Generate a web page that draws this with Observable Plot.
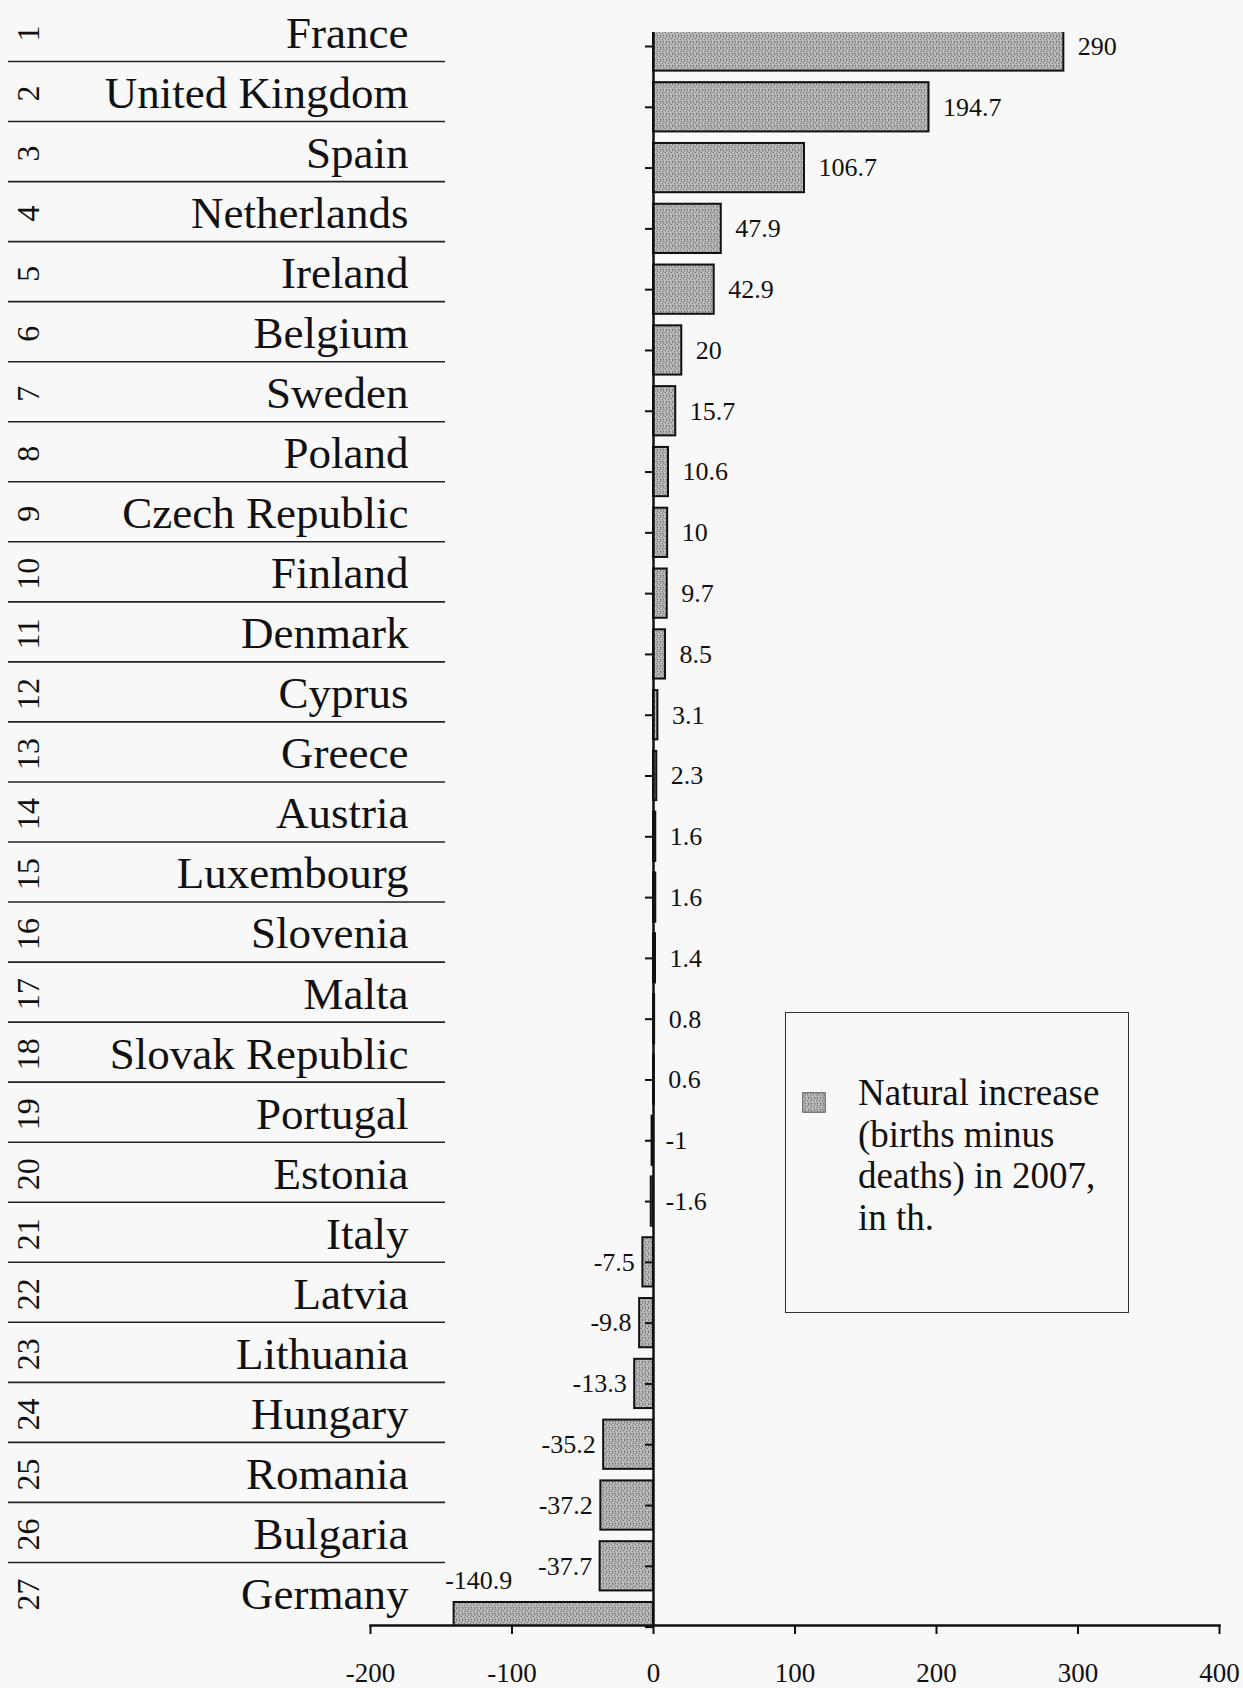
<!DOCTYPE html>
<html>
<head>
<meta charset="utf-8">
<script src="https://cdn.jsdelivr.net/npm/d3@7"></script>
<script src="https://cdn.jsdelivr.net/npm/@observablehq/plot@0.6"></script>
<style>
  html, body { margin: 0; padding: 0; background: #f8f8f8; }
  #wrap { position: relative; width: 1243px; height: 1688px; overflow: hidden;
          font-family: "Liberation Serif", "Times New Roman", serif; color: #111; }
  #wrap > svg { position: absolute; left: 0; top: 0; }
  #legend { position: absolute; left: 785px; top: 1012px; width: 344px; height: 301px;
            box-sizing: border-box; border: 1.5px solid #333; }
  #legend .sw { position: absolute; left: 16px; top: 79px; width: 24px; height: 21px; }
  #legend .txt { position: absolute; left: 72px; top: 59px; font-size: 37px; line-height: 41.5px; color: #111; }
</style>
</head>
<body>
<div id="wrap"></div>
<script>
// ---- data ----
const countries = ["France", "United Kingdom", "Spain", "Netherlands", "Ireland", "Belgium",
  "Sweden", "Poland", "Czech Republic", "Finland", "Denmark", "Cyprus", "Greece", "Austria",
  "Luxembourg", "Slovenia", "Malta", "Slovak Republic", "Portugal", "Estonia", "Italy",
  "Latvia", "Lithuania", "Hungary", "Romania", "Bulgaria", "Germany"];
const values = [290, 194.7, 106.7, 47.9, 42.9, 20, 15.7, 10.6, 10, 9.7, 8.5, 3.1, 2.3, 1.6,
  1.6, 1.4, 0.8, 0.6, -1, -1.6, -7.5, -9.8, -13.3, -35.2, -37.2, -37.7, -140.9];
const ranks = [1, 2, 3, 4, 5, 6, 7, 8, 9, 10, 11, 12, 13, 14, 15, 16, 17, 18, 19, 20, 21, 22,
  23, 24, 25, 26, 27];
const xTicks = [-200, -100, 0, 100, 200, 300, 400];
const legendLines = ["Natural increase", "(births minus", "deaths) in 2007,", "in th."];

const data = countries.map((c, i) => ({country: c, value: values[i], rank: ranks[i]}));
const FONT = "Liberation Serif";
const INK = "#111";

// ---- main chart (bars + x axis) ----
const main = Plot.plot({
  width: 1243, height: 1688,
  marginLeft: 370, marginRight: 24, marginTop: 32, marginBottom: 63,
  style: {background: "transparent", fontFamily: FONT, color: INK},
  x: {domain: [-200, 400], axis: null},
  y: {domain: countries, range: [15.6, 1657], paddingInner: 0.19, paddingOuter: 0.095, round: false, axis: null},
  marks: [
    Plot.barX(data, {x: "value", y: "country", fill: "url(#stipple)", stroke: INK, strokeWidth: 2, clip: true}),
    Plot.ruleX([0], {stroke: INK, strokeWidth: 2.5}),
    Plot.ruleY(data, {y: "country", x1: 0, x2: 0, insetLeft: -8, stroke: INK, strokeWidth: 2}),
    Plot.frame({anchor: "bottom", stroke: INK, strokeWidth: 2.5}),
    Plot.axisX({ticks: xTicks, tickFormat: d => String(d), tickSize: 9, tickPadding: 28, label: null,
      fontSize: 27, stroke: INK, strokeWidth: 2, fill: INK}),
    Plot.text(data.filter(d => d.value >= 0), {x: "value", y: "country", text: d => String(d.value),
      textAnchor: "start", dx: 14, fontSize: 26, fill: INK}),
    Plot.text(data.filter(d => d.value < 0 && d.value > -5), {x: 0, y: "country", text: d => String(d.value),
      textAnchor: "start", dx: 12, fontSize: 26, fill: INK}),
    Plot.text(data.filter(d => d.value <= -5 && d.value > -100), {x: "value", y: "country", text: d => String(d.value),
      textAnchor: "end", dx: -8, fontSize: 26, fill: INK}),
    Plot.text(data.filter(d => d.value <= -100), {x: "value", y: "country", text: d => String(d.value),
      textAnchor: "start", dx: -9, dy: -46, fontSize: 26, fill: INK})
  ]
});

// stippled grey fill like the printed original
const defs = document.createElementNS("http://www.w3.org/2000/svg", "defs");
defs.innerHTML = `<pattern id="stipple" width="6" height="6" patternUnits="userSpaceOnUse">
  <rect width="6" height="6" fill="#b0b0b0"/>
  <rect x="0" y="0" width="1" height="1" fill="#6f6f6f"/>
  <rect x="3" y="1" width="1" height="1" fill="#7a7a7a"/>
  <rect x="1" y="2" width="1" height="1" fill="#d2d2d2"/>
  <rect x="5" y="2" width="1" height="1" fill="#747474"/>
  <rect x="2" y="3" width="1" height="1" fill="#808080"/>
  <rect x="4" y="4" width="1" height="1" fill="#d6d6d6"/>
  <rect x="0" y="5" width="1" height="1" fill="#7c7c7c"/>
  <rect x="3" y="5" width="1" height="1" fill="#6c6c6c"/>
  <rect x="5" y="0" width="1" height="1" fill="#cfcfcf"/>
</pattern>`;
main.insertBefore(defs, main.firstChild);

// ---- left panel: ranks, country names, separator lines ----
const left = Plot.plot({
  width: 460, height: 1688,
  marginLeft: 28, marginRight: 15, marginTop: 0, marginBottom: 0,
  style: {background: "transparent", fontFamily: FONT, color: INK},
  y: {type: "point", domain: countries, range: [33, 1594], padding: 0, round: false, axis: null},
  marks: [
    Plot.ruleY(data.slice(0, -1), {y: "country", dy: 28, insetLeft: -20, stroke: "#222", strokeWidth: 1.6}),
    Plot.text(data, {y: "country", text: "country", frameAnchor: "right", textAnchor: "end",
      dx: -37, fontSize: 45, fill: INK}),
    Plot.text(data, {y: "country", text: d => String(d.rank), frameAnchor: "left", textAnchor: "middle",
      rotate: -90, fontSize: 32, fill: INK})
  ]
});

const wrap = document.getElementById("wrap");
wrap.appendChild(main);
wrap.appendChild(left);

// ---- legend ----
const legend = document.createElement("div");
legend.id = "legend";
legend.innerHTML = `<svg class="sw" width="24" height="21"><rect x="0.75" y="0.75" width="22.5" height="19.5"
  fill="url(#stipple)" stroke="#555" stroke-width="1"/></svg>
  <div class="txt">${legendLines.join("<br>")}</div>`;
wrap.appendChild(legend);
</script>
</body>
</html>
